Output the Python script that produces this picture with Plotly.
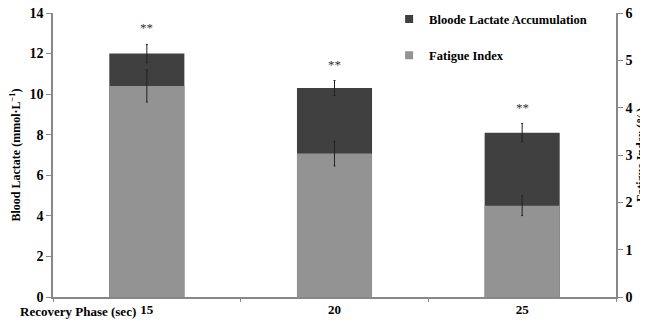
import plotly.graph_objects as go

phases = ["15", "20", "25"]
lactate_total = [12.0, 10.3, 8.1]
lactate_err = [0.45, 0.37, 0.45]
fatigue_index = [4.46, 3.03, 1.93]
fatigue_err = [0.34, 0.26, 0.21]
sig_labels = ["**", "**", "**"]

font_family = "Liberation Serif, Times New Roman, serif"
dark = "#404040"
light = "#939393"

fig = go.Figure()
fig.add_trace(go.Bar(
    x=phases, y=lactate_total, name="Bloode Lactate Accumulation",
    marker=dict(color=dark, line=dict(width=0)), width=0.4,
    error_y=dict(type="data", array=lactate_err, color="#222222", thickness=1, width=1),
    yaxis="y", showlegend=False,
))
fig.add_trace(go.Bar(
    x=phases, y=fatigue_index, name="Fatigue Index",
    marker=dict(color=light, line=dict(width=0)), width=0.4,
    error_y=dict(type="data", array=fatigue_err, color="#222222", thickness=1, width=1),
    yaxis="y2", showlegend=False,
))
# legend entries with small square swatches
fig.add_trace(go.Scatter(x=[None], y=[None], mode="markers", name="Bloode Lactate Accumulation",
                         marker=dict(symbol="square", size=8, color=dark), legendgroup="a"))
fig.add_trace(go.Scatter(x=[None], y=[None], mode="markers", name="Fatigue Index",
                         marker=dict(symbol="square", size=8, color=light), legendgroup="b"))

for i, (t, e, s) in enumerate(zip(lactate_total, lactate_err, sig_labels)):
    fig.add_annotation(x=i, y=t + e, xref="x", yref="y", text=s, showarrow=False,
                       yanchor="bottom", yshift=7,
                       font=dict(family=font_family, size=13, color="#333333"))

fig.add_annotation(x=-0.0622, xref="paper", xanchor="left", y=0, yref="paper",
                   yanchor="middle", yshift=-14,
                   text="<b>Recovery Phase (sec)</b>", showarrow=False,
                   font=dict(family=font_family, size=13, color="black"))

# page has an 8px body margin; figure sized/margined to compensate
fig.update_layout(
    template="none",
    width=640, height=316,
    margin=dict(l=45, r=32, t=5, b=27, autoexpand=False),
    paper_bgcolor="white", plot_bgcolor="white",
    barmode="overlay",
    font=dict(family=font_family, size=13, color="black"),
    showlegend=True,
    legend=dict(x=0.597, y=1.03, xanchor="left", yanchor="top", traceorder="grouped",
                tracegroupgap=17, bgcolor="rgba(0,0,0,0)",
                font=dict(family=font_family, size=12.5, color="black", weight="bold")),
    xaxis=dict(type="category", range=[-0.5, 2.5], showline=True, linecolor="#888888",
               linewidth=1.5, ticks="outside", ticklen=3, tickcolor="#888888",
               tickson="boundaries", tickangle=0, automargin=False,
               ticklabeloverflow="allow",
               tickfont=dict(family=font_family, size=13, color="black", weight="bold"),
               showgrid=False, zeroline=False),
    yaxis=dict(range=[0, 14], dtick=2, showline=True, linecolor="#888888", linewidth=1.5,
               ticks="outside", ticklen=5, tickcolor="#888888", showgrid=False, zeroline=False,
               automargin=False, ticklabeloverflow="allow",
               tickfont=dict(family=font_family, size=14, color="black", weight="bold"),
               title=dict(text="<b>Blood Lactate (mmol·L<sup>−1</sup>)</b>", standoff=10,
                          font=dict(family=font_family, size=12, color="black"))),
    yaxis2=dict(range=[0, 6], dtick=1, overlaying="y", side="right", showline=True,
                linecolor="#888888", linewidth=1.5, ticks="outside", ticklen=5,
                tickcolor="#888888", showgrid=False, zeroline=False, automargin=False,
                ticklabeloverflow="allow",
                tickfont=dict(family=font_family, size=14, color="black", weight="bold"),
                title=dict(text="<b>Fatigue Index (%)</b>", standoff=6,
                           font=dict(family=font_family, size=12, color="black"))),
)

fig.write_html("out.html")
